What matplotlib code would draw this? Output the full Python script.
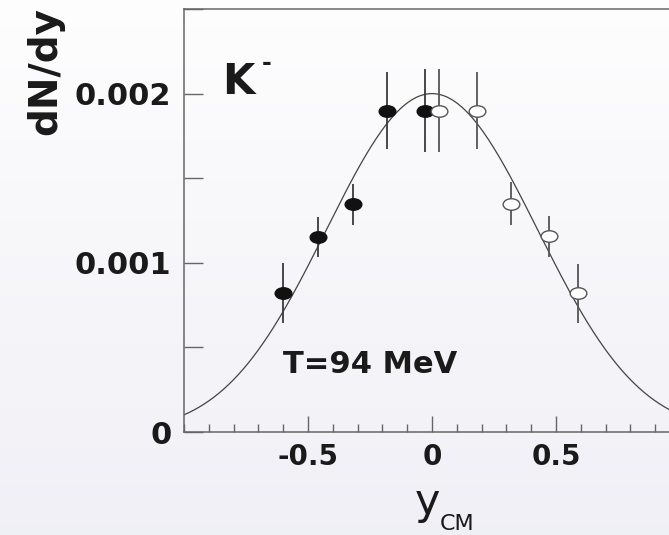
import numpy as np
import matplotlib.pyplot as plt
from matplotlib.path import Path
from matplotlib.transforms import Affine2D
from matplotlib.ticker import FixedLocator, MultipleLocator

# measured points (filled) and their reflection (open)
y_meas = [-0.60, -0.46, -0.32, -0.18, -0.03]
dndy_meas = [0.00082, 0.001155, 0.001345, 0.0019, 0.0019]
err_meas = [0.000177, 0.000118, 0.00012, 0.00023, 0.000245]

y_refl = [0.03, 0.18, 0.32, 0.47, 0.59]
dndy_refl = [0.0019, 0.0019, 0.00135, 0.001156, 0.00082]
err_refl = [0.000245, 0.00023, 0.000128, 0.00012, 0.000175]

# thermal (Boltzmann) source fit
T = 0.094      # GeV
m_K = 0.494    # GeV
peak = 0.002

yticks = [0, 0.001, 0.002]
ytick_labels = ["0", "0.001", "0.002"]
xticks = [-0.5, 0, 0.5]
xtick_labels = ["-0.5", "0", "0.5"]


def thermal(y):
    c = np.cosh(y)
    f = (m_K**2 * T + 2 * m_K * T**2 / c + 2 * T**3 / c**2) * np.exp(-m_K * c / T)
    f0 = (m_K**2 * T + 2 * m_K * T**2 + 2 * T**3) * np.exp(-m_K / T)
    return peak * f / f0


fig = plt.figure(figsize=(6.69, 5.35), dpi=100)

# soft vertical gradient background
bg = fig.add_axes([0, 0, 1, 1], zorder=-10)
grad = np.linspace(0, 1, 256).reshape(-1, 1)
top = np.array([0.995, 0.995, 0.997])
bot = np.array([0.94, 0.94, 0.965])
img = top + (bot - top) * grad[..., None]
bg.imshow(img, aspect="auto", extent=[0, 1, 0, 1])
bg.axis("off")

ax = fig.add_axes([184 / 669, 103 / 535, 496 / 669, 423 / 535])
ax.patch.set_alpha(0)
ax.set_xlim(-1, 1)
ax.set_ylim(0, 0.0025)

ellipse = Path.unit_circle().transformed(Affine2D().scale(1.45, 1.0))

xs = np.linspace(-1, 1, 400)
ax.plot(xs, thermal(xs), color="#444444", lw=0.9, zorder=2)

ax.errorbar(y_meas, dndy_meas, yerr=err_meas, fmt="none", ecolor="#3a3a3a",
            elinewidth=1.3, capsize=0, zorder=3)
ax.plot(y_meas, dndy_meas, linestyle="none", marker=ellipse, markersize=12,
        markerfacecolor="#111111", markeredgecolor="#111111", zorder=4)

ax.errorbar(y_refl, dndy_refl, yerr=err_refl, fmt="none", ecolor="#555555",
            elinewidth=1.3, capsize=0, zorder=3)
ax.plot(y_refl, dndy_refl, linestyle="none", marker=ellipse, markersize=12,
        markerfacecolor="white", markeredgecolor="#555555", markeredgewidth=1.0,
        zorder=4)

for s in ["top", "left", "bottom", "right"]:
    ax.spines[s].set_color("#666666")
    ax.spines[s].set_linewidth(1.1)

ax.yaxis.set_major_locator(FixedLocator(yticks))
ax.set_yticklabels(ytick_labels)
ax.yaxis.set_minor_locator(MultipleLocator(0.0005))
ax.xaxis.set_major_locator(FixedLocator(xticks))
ax.set_xticklabels(xtick_labels)
ax.xaxis.set_minor_locator(MultipleLocator(0.1))

ax.tick_params(axis="y", which="both", direction="in", length=13.5, width=1.0,
               color="#666666", pad=9, labelsize=22)
ax.tick_params(axis="x", which="major", direction="in", length=11.5, width=1.0,
               color="#666666", pad=8, labelsize=20)
ax.tick_params(axis="x", which="minor", direction="in", length=5.8, width=1.0,
               color="#666666")
for lab in ax.get_xticklabels() + ax.get_yticklabels():
    lab.set_fontweight("bold")
    lab.set_color("#1a1a1a")

ax.text(-0.847, 0.002, "K", fontsize=30, fontweight="bold", color="#1a1a1a",
        va="baseline", ha="left")
ax.text(-0.685, 0.00214, "-", fontsize=17, fontweight="bold", color="#1a1a1a",
        va="baseline", ha="left")
ax.text(-0.601, 0.000348, "T=94 MeV", fontsize=22, fontweight="bold",
        color="#1a1a1a", va="baseline", ha="left")

fig.text(45 / 669, 1 - 71 / 535, "dN/dy", rotation=90, fontsize=28,
         fontweight="bold", color="#1a1a1a", ha="center", va="center")
fig.text(415 / 669, 21 / 535, "y", fontsize=31, color="#1a1a1a",
         ha="left", va="baseline")
fig.text(440 / 669, 5 / 535, "CM", fontsize=16, color="#1a1a1a",
         ha="left", va="baseline")

fig.savefig("out.png", dpi=100)
